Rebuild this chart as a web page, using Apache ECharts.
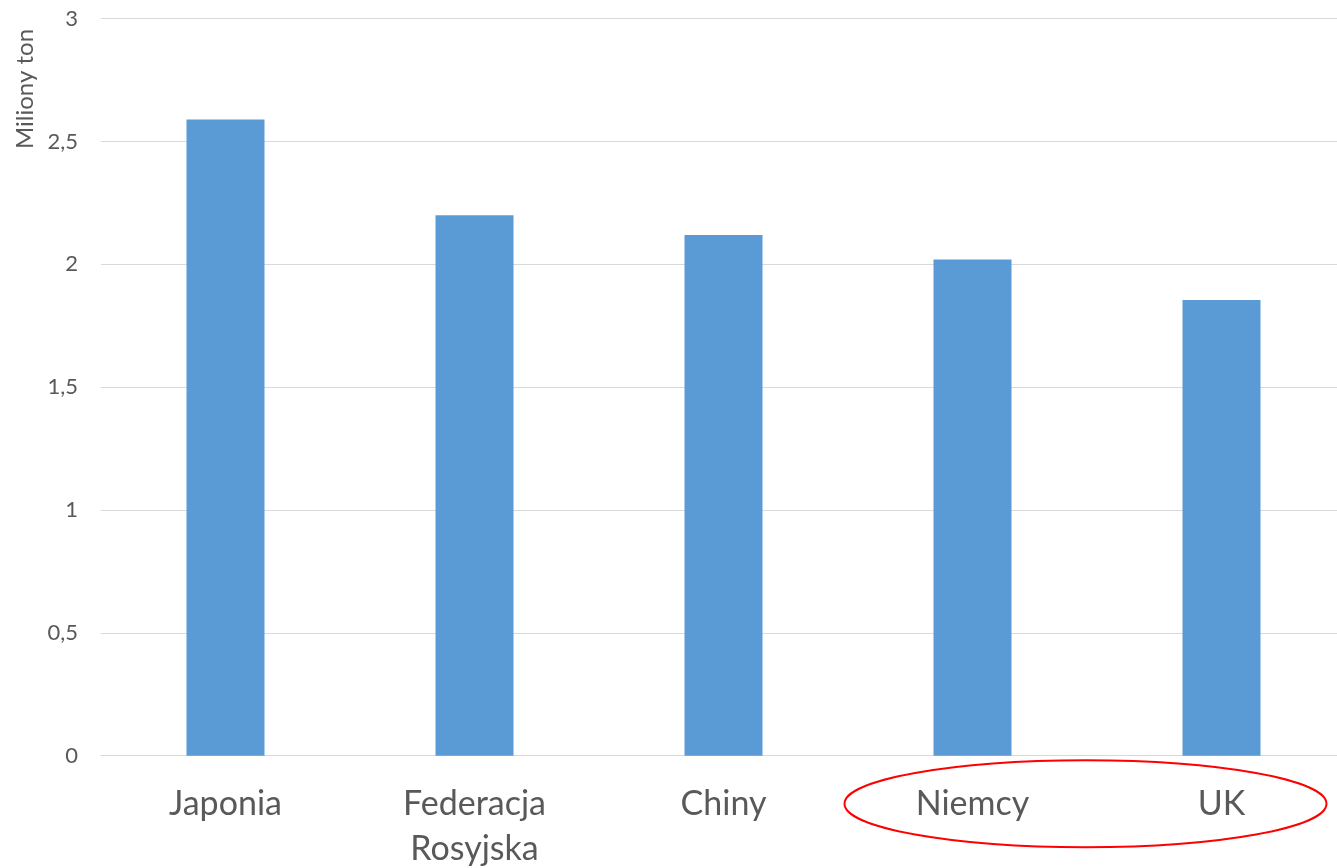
<!DOCTYPE html>
<html>
<head>
<meta charset="utf-8">
<script src="https://cdn.jsdelivr.net/npm/echarts@6/dist/echarts.min.js"></script>
<style>
  html, body { margin: 0; padding: 0; background: #ffffff; overflow: hidden; }
  #chart { width: 1337px; height: 868px; }
</style>
</head>
<body>
<div id="chart"></div>
<script>
// Countries on the category axis
const countries = ['Japonia', 'Federacja\nRosyjska', 'Chiny', 'Niemcy', 'UK'];
// Amount per country, millions of tonnes
const amounts = [2.59, 2.2, 2.12, 2.02, 1.855];
// Value axis ticks
const yTicks = [0, 0.5, 1, 1.5, 2, 2.5, 3];
const yAxisTitle = 'Miliony ton';
// Categories highlighted by the red ring
const highlighted = ['Niemcy', 'UK'];

const textColor = '#595959';
const fontFamily = 'Lato, "Open Sans", sans-serif';

const chart = echarts.init(document.getElementById('chart'), null, { renderer: 'canvas' });

const titleGraphic = {
  type: 'text',
  x: 25,
  y: 89,
  rotation: Math.PI / 2,
  style: {
    text: yAxisTitle,
    fill: textColor,
    font: '24px ' + fontFamily,
    textAlign: 'center',
    textVerticalAlign: 'middle'
  }
};

chart.setOption({
  animation: false,
  backgroundColor: '#ffffff',
  grid: {
    left: 101, top: 18.7, bottom: 112.3, width: 1245,
    containLabel: false,
    outerBoundsMode: 'none'
  },
  xAxis: {
    type: 'category',
    data: countries,
    axisLine: { show: true, lineStyle: { color: '#D9D9D9', width: 1 } },
    axisTick: { show: false },
    axisLabel: {
      color: textColor,
      fontFamily: fontFamily,
      fontSize: 34,
      lineHeight: 45,
      margin: 26,
      interval: 0
    },
    splitLine: { show: false }
  },
  yAxis: {
    type: 'value',
    min: yTicks[0],
    max: yTicks[yTicks.length - 1],
    interval: yTicks[1] - yTicks[0],
    axisLine: { show: false },
    axisTick: { show: false },
    axisLabel: {
      color: textColor,
      fontFamily: fontFamily,
      fontSize: 22,
      margin: 23,
      formatter: v => String(v).replace('.', ',')
    },
    splitLine: { lineStyle: { color: '#D9D9D9', width: 1 } }
  },
  series: [{
    type: 'bar',
    data: amounts,
    barWidth: 78,
    itemStyle: { color: '#5B9BD5' }
  }],
  graphic: [titleGraphic]
});

// Red ring around the highlighted category labels
const xa = chart.convertToPixel({ xAxisIndex: 0 }, highlighted[0]);
const xb = chart.convertToPixel({ xAxisIndex: 0 }, highlighted[1]);
const baseY = chart.convertToPixel({ yAxisIndex: 0 }, 0);
chart.setOption({
  graphic: [titleGraphic, {
    type: 'ellipse',
    shape: { cx: (xa + xb) / 2 - 11.5, cy: baseY + 48, rx: (xb - xa) / 2 + 116.5, ry: 43.5 },
    style: { fill: 'none', stroke: '#FF0000', lineWidth: 2 }
  }]
}, { replaceMerge: ['graphic'] });
</script>
</body>
</html>
